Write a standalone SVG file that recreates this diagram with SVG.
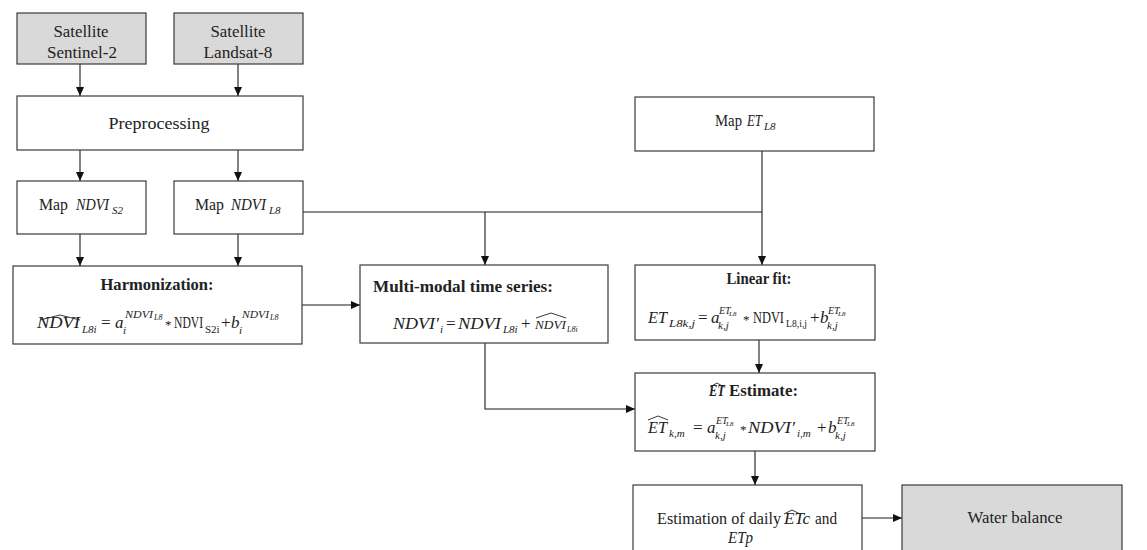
<svg xmlns="http://www.w3.org/2000/svg" width="1147" height="550" viewBox="0 0 1147 550">
<style>
.box{fill:#fff;stroke:#3a3a3a;stroke-width:1.2}
.grey{fill:#d9d9d9}
.ln{fill:none;stroke:#1a1a1a;stroke-width:1.1}
.t{font-family:"Liberation Serif","DejaVu Serif",serif;font-size:17px;fill:#222}
.c{text-anchor:middle}
.b{font-weight:bold}
.mi{font-family:"Liberation Serif","DejaVu Serif",serif;font-size:17px;font-style:italic;fill:#222}
.mr{font-family:"Liberation Serif","DejaVu Serif",serif;font-size:17px;fill:#222}
.ast{font-family:"Liberation Serif","DejaVu Serif",serif;font-size:13px;fill:#222}
.si{font-family:"Liberation Serif","DejaVu Serif",serif;font-size:11px;font-style:italic;fill:#222}
.sr{font-family:"Liberation Serif","DejaVu Serif",serif;font-size:11px;fill:#222}
.ssi{font-family:"Liberation Serif","DejaVu Serif",serif;font-size:8px;font-style:italic;fill:#222}
.hat{fill:none;stroke:#222;stroke-width:0.9}
</style>
<defs>
<marker id="ah" markerWidth="10" markerHeight="10" refX="9" refY="4" orient="auto" markerUnits="userSpaceOnUse"><path d="M0,0 L9,4 L0,8 z" fill="#111"/></marker>
</defs>

<g id="connectors">
<line class="ln" x1="80" y1="64" x2="80" y2="96" marker-end="url(#ah)"/>
<line class="ln" x1="238" y1="64" x2="238" y2="96" marker-end="url(#ah)"/>
<line class="ln" x1="80" y1="150" x2="80" y2="181" marker-end="url(#ah)"/>
<line class="ln" x1="238" y1="150" x2="238" y2="181" marker-end="url(#ah)"/>
<line class="ln" x1="80" y1="234" x2="80" y2="266" marker-end="url(#ah)"/>
<line class="ln" x1="238" y1="234" x2="238" y2="266" marker-end="url(#ah)"/>
<line class="ln" x1="303" y1="212" x2="762" y2="212"/>
<line class="ln" x1="485" y1="212" x2="485" y2="265" marker-end="url(#ah)"/>
<line class="ln" x1="762" y1="151" x2="762" y2="265" marker-end="url(#ah)"/>
<line class="ln" x1="302" y1="305" x2="360" y2="305" marker-end="url(#ah)"/>
<line class="ln" x1="759" y1="340" x2="759" y2="373" marker-end="url(#ah)"/>
<polyline class="ln" points="485,343 485,409 635,409" marker-end="url(#ah)"/>
<line class="ln" x1="755" y1="451" x2="755" y2="485" marker-end="url(#ah)"/>
<line class="ln" x1="862" y1="518" x2="902" y2="518" marker-end="url(#ah)"/>
</g>

<g id="sat-s2">
<rect class="box grey" x="17" y="13" width="129" height="51"/>
<text class="t c" x="81" y="37" textLength="55" lengthAdjust="spacingAndGlyphs">Satellite</text>
<text class="t c" x="82" y="58" textLength="70" lengthAdjust="spacingAndGlyphs">Sentinel-2</text>
</g>
<g id="sat-l8">
<rect class="box grey" x="174" y="13" width="129" height="51"/>
<text class="t c" x="238" y="37" textLength="55" lengthAdjust="spacingAndGlyphs">Satellite</text>
<text class="t c" x="238" y="58" textLength="69" lengthAdjust="spacingAndGlyphs">Landsat-8</text>
</g>
<g id="preprocessing">
<rect class="box" x="17" y="96" width="286" height="54"/>
<text class="t c" x="159" y="129" textLength="101" lengthAdjust="spacingAndGlyphs">Preprocessing</text>
</g>
<g id="map-ndvi-s2">
<rect class="box" x="17" y="181" width="129" height="53"/>
<text class="t" x="39" y="210" textLength="29" lengthAdjust="spacingAndGlyphs">Map</text>
<text class="mi" x="76" y="210" textLength="33" lengthAdjust="spacingAndGlyphs">NDVI</text>
<text class="si" x="112" y="214">S2</text>
</g>
<g id="map-ndvi-l8">
<rect class="box" x="174" y="181" width="129" height="53"/>
<text class="t" x="195" y="210" textLength="29" lengthAdjust="spacingAndGlyphs">Map</text>
<text class="mi" x="231" y="210" textLength="35" lengthAdjust="spacingAndGlyphs">NDVI</text>
<text class="si" x="269" y="214">L8</text>
</g>
<g id="map-et-l8">
<rect class="box" x="635" y="97" width="239" height="54"/>
<text class="t" x="715" y="126" textLength="27" lengthAdjust="spacingAndGlyphs">Map</text>
<text class="mi" x="747" y="126" textLength="15" lengthAdjust="spacingAndGlyphs">ET</text>
<text class="si" x="764" y="130">L8</text>
</g>

<g id="harmonization">
<rect class="box" x="13" y="266" width="289" height="78"/>
<text class="t c b" x="157" y="290" textLength="113" lengthAdjust="spacingAndGlyphs">Harmonization:</text>
<text class="mi" x="37" y="328" textLength="43" lengthAdjust="spacingAndGlyphs">NDVI</text>
<path class="hat" d="M40,320 L60,315 L80,320"/>
<text class="si" x="82" y="333">L8i</text>
<text class="mr" x="101" y="328">=</text>
<text class="mi" x="115" y="328">a</text>
<text class="si" x="123" y="334">i</text>
<text class="si" x="125" y="318" textLength="28" lengthAdjust="spacingAndGlyphs">NDVI</text>
<text class="ssi" x="154" y="320">L8</text>
<text class="ast" x="165" y="329">*</text>
<text class="mr" x="174" y="328" textLength="29" lengthAdjust="spacingAndGlyphs">NDVI</text>
<text class="sr" x="205" y="333">S2i</text>
<text class="mr" x="221" y="328">+</text>
<text class="mi" x="231" y="328">b</text>
<text class="si" x="239" y="334">i</text>
<text class="si" x="242" y="318" textLength="27" lengthAdjust="spacingAndGlyphs">NDVI</text>
<text class="ssi" x="270" y="320">L8</text>
</g>

<g id="multimodal">
<rect class="box" x="360" y="265" width="248" height="78"/>
<text class="t b" x="373" y="292" textLength="180" lengthAdjust="spacingAndGlyphs">Multi-modal time series:</text>
<text class="mi" x="393" y="329" textLength="46" lengthAdjust="spacingAndGlyphs">NDVI′</text>
<text class="si" x="440" y="333">i</text>
<text class="mr" x="446" y="329">=</text>
<text class="mi" x="458" y="329" textLength="43" lengthAdjust="spacingAndGlyphs">NDVI</text>
<text class="si" x="503" y="333">L8i</text>
<text class="mr" x="521" y="329">+</text>
<text class="mi" x="535" y="329" textLength="31" lengthAdjust="spacingAndGlyphs" style="font-size:13px">NDVI</text>
<path class="hat" d="M536,318 L551,313 L566,318"/>
<text class="ssi" x="567" y="332">L8i</text>
</g>

<g id="linear-fit">
<rect class="box" x="635" y="265" width="240" height="75"/>
<text class="t c b" x="759" y="284" textLength="65" lengthAdjust="spacingAndGlyphs">Linear fit:</text>
<text class="mi" x="648" y="323" textLength="19" lengthAdjust="spacingAndGlyphs">ET</text>
<text class="si" x="669" y="327" textLength="26" lengthAdjust="spacingAndGlyphs">L8k,j</text>
<text class="mr" x="698" y="323">=</text>
<text class="mi" x="711" y="323">a</text>
<text class="si" x="719" y="314" style="font-size:10px">ET</text>
<text class="ssi" x="729" y="316" style="font-size:7px">L8</text>
<text class="si" x="718" y="329">k,j</text>
<text class="ast" x="743" y="324">*</text>
<text class="mr" x="753" y="323" textLength="31" lengthAdjust="spacingAndGlyphs">NDVI</text>
<text class="sr" x="786" y="327" textLength="21" lengthAdjust="spacingAndGlyphs">L8,i,j</text>
<text class="mr" x="810" y="323">+</text>
<text class="mi" x="820" y="323">b</text>
<text class="si" x="828" y="314" style="font-size:10px">ET</text>
<text class="ssi" x="838" y="316" style="font-size:7px">L8</text>
<text class="si" x="827" y="329">k,j</text>
</g>

<g id="et-estimate">
<rect class="box" x="635" y="373" width="240" height="78"/>
<text class="t b" x="709" y="396" textLength="16" lengthAdjust="spacingAndGlyphs" style="font-style:italic">ET</text>
<path class="hat" d="M710,387 L717,383 L724,387"/>
<text class="t b" x="729" y="396" textLength="69" lengthAdjust="spacingAndGlyphs">Estimate:</text>
<text class="mi" x="648" y="433" textLength="19" lengthAdjust="spacingAndGlyphs">ET</text>
<path class="hat" d="M648,420 L658,416 L668,420"/>
<text class="si" x="669" y="437">k,m</text>
<text class="mr" x="693" y="433">=</text>
<text class="mi" x="707" y="433">a</text>
<text class="si" x="716" y="424" style="font-size:10px">ET</text>
<text class="ssi" x="726" y="426" style="font-size:7px">L8</text>
<text class="si" x="715" y="439">k,j</text>
<text class="ast" x="740" y="434">*</text>
<text class="mi" x="748" y="433" textLength="47" lengthAdjust="spacingAndGlyphs">NDVI′</text>
<text class="si" x="797" y="437">i,m</text>
<text class="mr" x="817" y="433">+</text>
<text class="mi" x="828" y="433">b</text>
<text class="si" x="837" y="424" style="font-size:10px">ET</text>
<text class="ssi" x="847" y="426" style="font-size:7px">L8</text>
<text class="si" x="835" y="439">k,j</text>
</g>

<g id="estimation">
<rect class="box" x="633" y="485" width="229" height="80"/>
<text class="t" x="657" y="524" textLength="124" lengthAdjust="spacingAndGlyphs">Estimation of daily</text>
<text class="mi" x="784" y="524" textLength="26" lengthAdjust="spacingAndGlyphs">ETc</text>
<path class="hat" d="M784,514 L792,510 L800,514"/>
<text class="t" x="815" y="524" textLength="22" lengthAdjust="spacingAndGlyphs">and</text>
<text class="mi" x="728" y="543" textLength="25" lengthAdjust="spacingAndGlyphs">ETp</text>
</g>

<g id="water-balance">
<rect class="box grey" x="902" y="485" width="220" height="80"/>
<text class="t c" x="1015" y="523" textLength="95" lengthAdjust="spacingAndGlyphs">Water balance</text>
</g>
</svg>
